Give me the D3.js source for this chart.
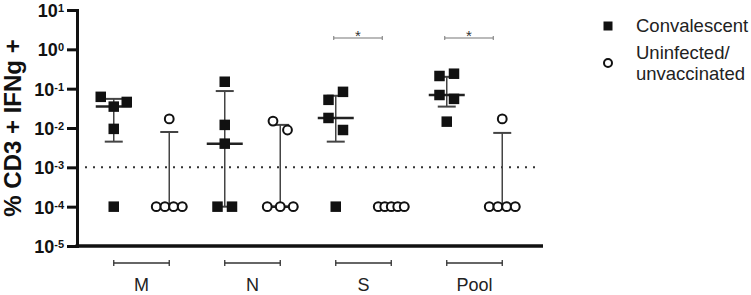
<!DOCTYPE html>
<html>
<head>
<meta charset="utf-8">
<script src="https://cdn.jsdelivr.net/npm/d3@7"></script>
<style>
  body { margin: 0; background: #fff; }
  text { font-family: "Liberation Sans", Arial, sans-serif; }
</style>
</head>
<body>
<div id="chart"></div>
<script>
const width = 751;
const height = 295;

// groups along x
const groups = ["M", "N", "S", "Pool"];
const seriesNames = ["Convalescent", "Uninfected/unvaccinated"];

// values per group, data order = left to right inside a cluster
const convalescent = [
    [0.062, 0.035, 0.046, 0.0095, 0.0001],
    [0.15, 0.012, 0.004, 0.0001, 0.0001],
    [0.052, 0.083, 0.018, 0.0089, 0.0001],
    [0.21, 0.24, 0.069, 0.055, 0.0145]
];
const uninfected = [
    [0.017, 0.0001, 0.0001, 0.0001, 0.0001],
    [0.015, 0.0089, 0.0001, 0.0001, 0.0001],
    [0.0001, 0.0001, 0.0001, 0.0001, 0.0001],
    [0.017, 0.0001, 0.0001, 0.0001, 0.0001]
];
// error bar ends
const convLow = [0.0045, 0.0001, 0.0045, 0.035];
const convHigh = [0.055, 0.087, 0.066, 0.2];
const uninfLow = [0.0001, 0.0001, 0.0001, 0.0001];
const uninfHigh = [0.0079, 0.012, 0.0001, 0.0075];

const yTicks = [1e-5, 1e-4, 1e-3, 1e-2, 1e-1, 1, 10];
const threshold = 1e-3;
// significance brackets: groups with a star between the two columns
const sigGroups = ["S", "Pool"];

const svg = d3.select("#chart").append("svg")
    .attr("width", width)
    .attr("height", height);

const x = d3.scaleBand().domain(groups).range([86, 530]).padding(0);
const xSub = d3.scalePoint().domain(seriesNames).range([0, x.bandwidth()]).padding(0.5);
const y = d3.scaleLog().domain([1e-5, 10]).range([246, 10]);

const axisLeft = 77;
const axisRight = 543;

// dotted line at 10^-3
svg.append("line")
    .attr("x1", axisLeft).attr("x2", 537)
    .attr("y1", y(threshold)).attr("y2", y(threshold))
    .attr("stroke", "#333")
    .attr("stroke-width", 2)
    .attr("stroke-dasharray", "2,6");

// y axis
const yAxis = svg.append("g")
    .attr("transform", "translate(" + axisLeft + ",0)")
    .call(d3.axisLeft(y).tickValues(yTicks).tickSize(10).tickFormat(""));
yAxis.select(".domain").attr("stroke", "#111").attr("stroke-width", 3);
yAxis.selectAll(".tick line").attr("stroke", "#111").attr("stroke-width", 3);
yAxis.selectAll(".tick").append("text")
    .attr("x", -13)
    .attr("dy", "0.36em")
    .attr("text-anchor", "end")
    .attr("fill", "#111")
    .style("font-size", "18px")
    .style("font-weight", "bold")
    .each(function(d) {
        const t = d3.select(this);
        const e = Math.round(Math.log10(d));
        t.append("tspan").text("10");
        t.append("tspan")
            .attr("dy", "-0.45em")
            .style("font-size", "11px")
            .text(e < 0 ? "-" + Math.abs(e) : e);
    });

// bottom axis line
svg.append("line")
    .attr("x1", axisLeft - 1.5).attr("x2", axisRight)
    .attr("y1", 246).attr("y2", 246)
    .attr("stroke", "#111")
    .attr("stroke-width", 3.5);

// y title
svg.append("text")
    .attr("transform", "translate(21,128) rotate(-90)")
    .attr("text-anchor", "middle")
    .attr("fill", "#111")
    .style("font-size", "24px")
    .style("font-weight", "bold")
    .text("% CD3 + IFNg +");

// lay out points of one column: clusters of close points spread symmetrically
function layout(values) {
    const pts = values.map((v, i) => ({v: v, i: i, py: y(v)}));
    const sorted = pts.slice().sort((a, b) => a.py - b.py);
    const clusters = [];
    let cur = [];
    sorted.forEach(p => {
        if (cur.length && p.py - cur[cur.length - 1].py >= 13) {
            clusters.push(cur);
            cur = [];
        }
        cur.push(p);
    });
    if (cur.length) clusters.push(cur);
    clusters.forEach(c => {
        c.sort((a, b) => a.i - b.i);
        const n = c.length;
        const step = n > 1 ? Math.min(14.5, 26 / (n - 1)) : 0;
        c.forEach((p, k) => p.dx = (k - (n - 1) / 2) * step);
    });
    return pts;
}

const errColor = "#444";

function drawColumn(g, values, low, high, cx, shape) {
    // error bar
    g.append("line")
        .attr("x1", cx).attr("x2", cx)
        .attr("y1", y(low)).attr("y2", y(high))
        .attr("stroke", errColor).attr("stroke-width", 1.5);
    [low, high].forEach(v => {
        g.append("line")
            .attr("x1", cx - 9).attr("x2", cx + 9)
            .attr("y1", y(v)).attr("y2", y(v))
            .attr("stroke", errColor).attr("stroke-width", 2);
    });
    // median
    const med = d3.median(values);
    g.append("line")
        .attr("x1", cx - 18).attr("x2", cx + 18)
        .attr("y1", y(med)).attr("y2", y(med))
        .attr("stroke", "#222").attr("stroke-width", 2.5);

    const pts = layout(values);
    if (shape == "square") {
        g.selectAll("rect.pt")
            .data(pts)
            .enter()
            .append("rect")
            .attr("class", "pt")
            .attr("x", d => cx + d.dx - 5.25)
            .attr("y", d => d.py - 5.25)
            .attr("width", 10.5)
            .attr("height", 10.5)
            .attr("fill", "#111");
    } else {
        g.selectAll("circle.pt")
            .data(pts)
            .enter()
            .append("circle")
            .attr("class", "pt")
            .attr("cx", d => cx + d.dx)
            .attr("cy", d => d.py)
            .attr("r", 4.4)
            .attr("fill", "#fff")
            .attr("stroke", "#111")
            .attr("stroke-width", 2);
    }
}

groups.forEach((grp, gi) => {
    const g = svg.append("g");
    const cxConv = x(grp) + xSub(seriesNames[0]);
    const cxUninf = x(grp) + xSub(seriesNames[1]);
    drawColumn(g, convalescent[gi], convLow[gi], convHigh[gi], cxConv, "square");
    drawColumn(g, uninfected[gi], uninfLow[gi], uninfHigh[gi], cxUninf, "circle");

    // group bracket below axis
    g.append("line")
        .attr("x1", cxConv).attr("x2", cxUninf)
        .attr("y1", 263).attr("y2", 263)
        .attr("stroke", "#333").attr("stroke-width", 1.3);
    [cxConv, cxUninf].forEach(xx => {
        g.append("line")
            .attr("x1", xx).attr("x2", xx)
            .attr("y1", 260).attr("y2", 266)
            .attr("stroke", "#333").attr("stroke-width", 1.3);
    });
    g.append("text")
        .attr("x", (cxConv + cxUninf) / 2)
        .attr("y", 291)
        .attr("text-anchor", "middle")
        .attr("fill", "#222")
        .style("font-size", "18px")
        .text(grp);

    // significance
    if (sigGroups.includes(grp)) {
        const x1 = cxConv - 2, x2 = cxUninf - 9;
        g.append("line")
            .attr("x1", x1).attr("x2", x2)
            .attr("y1", 38).attr("y2", 38)
            .attr("stroke", "#777").attr("stroke-width", 1.2);
        [x1, x2].forEach(xx => {
            g.append("line")
                .attr("x1", xx).attr("x2", xx)
                .attr("y1", 36).attr("y2", 40)
                .attr("stroke", "#777").attr("stroke-width", 1);
        });
        g.append("text")
            .attr("x", (x1 + x2) / 2)
            .attr("y", 41)
            .attr("text-anchor", "middle")
            .attr("fill", "#333")
            .style("font-size", "15px")
            .text("*");
    }
});

// legend
const legend = svg.append("g");
legend.append("rect")
    .attr("x", 603.5).attr("y", 21.5)
    .attr("width", 9).attr("height", 9)
    .attr("fill", "#111");
legend.append("text")
    .attr("x", 636).attr("y", 32)
    .attr("fill", "#222")
    .style("font-size", "18.5px")
    .text("Convalescent");
legend.append("circle")
    .attr("cx", 608).attr("cy", 63)
    .attr("r", 4)
    .attr("fill", "#fff")
    .attr("stroke", "#111")
    .attr("stroke-width", 2);
legend.append("text")
    .attr("x", 636).attr("y", 59)
    .attr("fill", "#222")
    .style("font-size", "18.5px")
    .text("Uninfected/");
legend.append("text")
    .attr("x", 636).attr("y", 80)
    .attr("fill", "#222")
    .style("font-size", "18.5px")
    .text("unvaccinated");
</script>
</body>
</html>
